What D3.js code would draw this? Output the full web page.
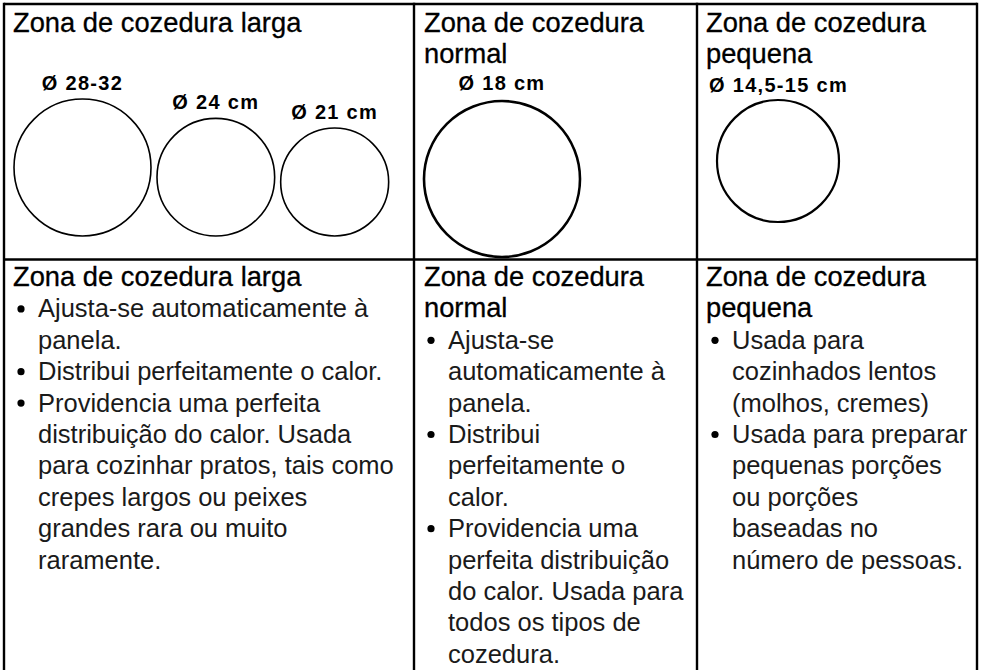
<!DOCTYPE html>
<html><head><meta charset="utf-8">
<script src="https://cdn.jsdelivr.net/npm/d3@7"></script>
<style>html,body{margin:0;padding:0;background:#fff;}svg{display:block;}</style>
</head><body>
<script>
// ---- data ----
const zoneTitles = [["Zona de cozedura larga"], ["Zona de cozedura", "normal"], ["Zona de cozedura", "pequena"]];
const zoneIds = ["larga", "normal", "pequena"];
const circleZone = ["larga", "larga", "larga", "normal", "pequena"];
const circleLabels = ["Ø 28-32", "Ø 24 cm", "Ø 21 cm", "Ø 18 cm", "Ø 14,5-15 cm"];
const circleDiameters = [30, 24, 21, 18, 14.75];
const bulletsLarga = [
  ["Ajusta-se automaticamente à", "panela."],
  ["Distribui perfeitamente o calor."],
  ["Providencia uma perfeita", "distribuição do calor. Usada", "para cozinhar pratos, tais como", "crepes largos ou peixes", "grandes rara ou muito", "raramente."]
];
const bulletsNormal = [
  ["Ajusta-se", "automaticamente à", "panela."],
  ["Distribui", "perfeitamente o", "calor."],
  ["Providencia uma", "perfeita distribuição", "do calor. Usada para", "todos os tipos de", "cozedura."]
];
const bulletsPequena = [
  ["Usada para", "cozinhados lentos", "(molhos, cremes)"],
  ["Usada para preparar", "pequenas porções", "ou porções", "baseadas no", "número de pessoas."]
];

// ---- layout ----
const W = 982, H = 670;
const FONT = "'Liberation Sans', Arial, Helvetica, sans-serif";
const svg = d3.select("body").append("svg").attr("width", W).attr("height", H);

const colX = [4, 414, 697, 977];
const rowY = [4, 259.5];

// grid lines
const g = svg.append("g").attr("stroke", "#000").attr("stroke-width", 2.4);
g.append("line").attr("x1", colX[0]).attr("x2", colX[3]).attr("y1", rowY[0]).attr("y2", rowY[0]);
g.append("line").attr("x1", colX[0]).attr("x2", colX[3]).attr("y1", rowY[1]).attr("y2", rowY[1]);
colX.forEach(x => g.append("line").attr("x1", x).attr("x2", x).attr("y1", rowY[0] - 1.2).attr("y2", H + 2));

// per-zone display scales (diameter cm -> radius px, schematic drawing)
const rScale = {
  larga: d3.scaleLinear().domain([21, 30]).range([54, 68.5]),
  normal: d3.scaleLinear().domain([14, 18]).range([62, 78]),
  pequena: d3.scaleLinear().domain([14.75, 18]).range([61, 78])
};
const zoneCfg = {
  larga:   {left: 14,  bottom: 236, gap: 6, sw: 1.6, labelGap: 9,  align: "middle"},
  normal:  {left: 424, bottom: 257, gap: 0, sw: 2.6, labelGap: 11, align: "middle"},
  pequena: {left: 717, bottom: 222, gap: 0, sw: 2.2, labelGap: 8,  align: "start", labelX: 709}
};

// compute circle positions by packing within each zone
const circles = [];
const cursor = {};
circleZone.forEach((z, i) => {
  const c = zoneCfg[z];
  const r = rScale[z](circleDiameters[i]);
  const left = cursor[z] === undefined ? c.left : cursor[z] + c.gap;
  const cx = left + r, cy = c.bottom - r;
  cursor[z] = left + 2 * r;
  circles.push({zone: z, r, cx, cy, label: circleLabels[i]});
});

svg.append("g").selectAll("circle").data(circles).join("circle")
  .attr("cx", d => d.cx).attr("cy", d => d.cy).attr("r", d => d.r)
  .attr("fill", "none").attr("stroke", "#000")
  .attr("stroke-width", d => zoneCfg[d.zone].sw);

svg.append("g").selectAll("text").data(circles).join("text")
  .attr("x", d => zoneCfg[d.zone].align === "start" ? zoneCfg[d.zone].labelX : d.cx)
  .attr("y", d => d.cy - d.r - zoneCfg[d.zone].labelGap)
  .attr("text-anchor", d => zoneCfg[d.zone].align)
  .attr("font-family", FONT).attr("font-weight", "bold").attr("font-size", 20)
  .attr("letter-spacing", 1.3)
  .text(d => d.label);

// titles (top and bottom rows)
const titleX = [13, 424, 706];
const LH = 31.4;
const TITLE_SIZE = 27.3, BODY_SIZE = 25.5;
[32, 286].forEach(base => {
  zoneTitles.forEach((lines, ci) => {
    lines.forEach((t, li) => {
      svg.append("text").attr("x", titleX[ci]).attr("y", base + li * LH)
        .attr("font-family", FONT).attr("font-size", TITLE_SIZE)
        .attr("fill", "#000").attr("stroke", "#000").attr("stroke-width", 0.3)
        .text(t);
    });
  });
});

// bullet lists
const bulletSets = [bulletsLarga, bulletsNormal, bulletsPequena];
const bulletDotX = [21, 431, 715];
const bulletTextX = [38, 448, 732];
bulletSets.forEach((items, ci) => {
  let line = zoneTitles[ci].length;
  items.forEach(item => {
    const y0 = 286 + line * LH;
    svg.append("circle").attr("cx", bulletDotX[ci]).attr("cy", y0 - 8.5).attr("r", 3.6).attr("fill", "#000");
    item.forEach((t, k) => {
      svg.append("text").attr("x", bulletTextX[ci]).attr("y", y0 + k * LH)
        .attr("font-family", FONT).attr("font-size", BODY_SIZE).attr("fill", "#1a1a1a")
        .text(t);
    });
    line += item.length;
  });
});
</script>
</body></html>
